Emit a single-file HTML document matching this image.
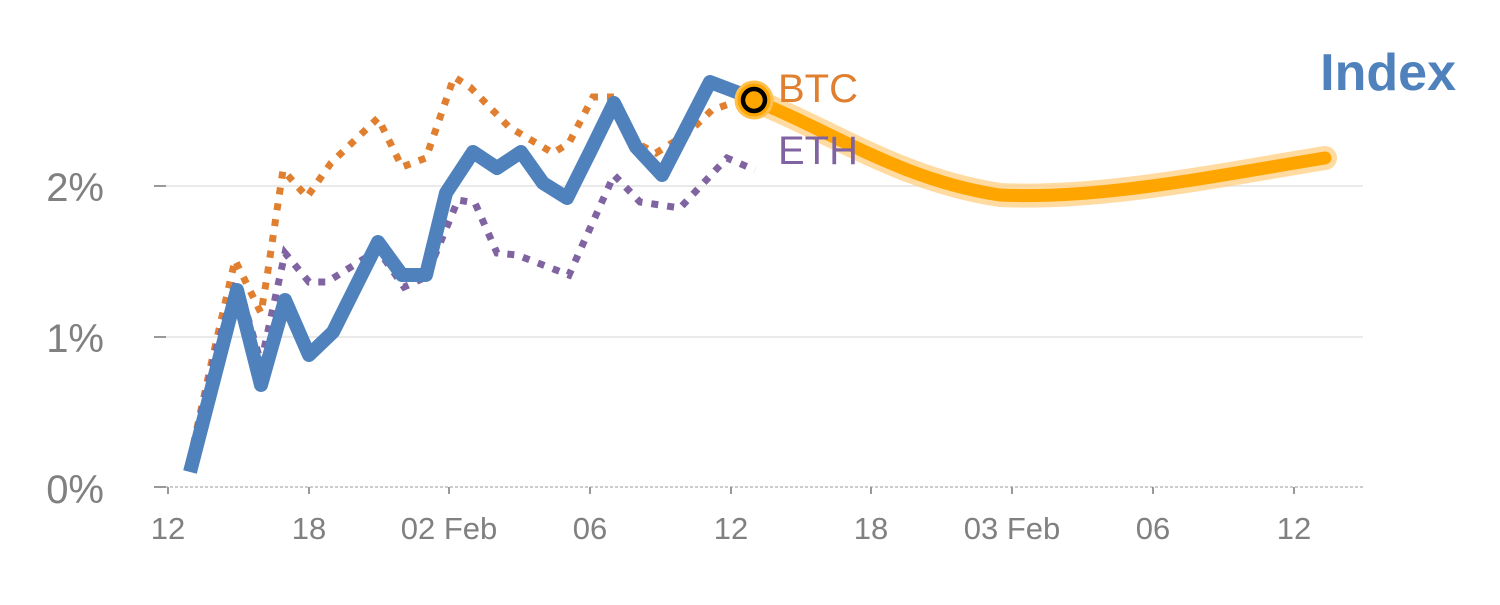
<!DOCTYPE html>
<html><head><style>body{margin:0;background:#fff}</style></head><body>
<svg width="1500" height="600" xmlns="http://www.w3.org/2000/svg" font-family="Liberation Sans, sans-serif">
<g stroke="#e3e3e3" stroke-width="1.5">
<line x1="155" y1="186" x2="1363" y2="186"/>
<line x1="155" y1="337" x2="1363" y2="337"/>
</g>
<line x1="155" y1="487" x2="1363" y2="487" stroke="#ccc" stroke-width="2" stroke-dasharray="3,2"/>
<g stroke="#999" stroke-width="2">
<line x1="154" y1="186" x2="166" y2="186"/><line x1="154" y1="337" x2="166" y2="337"/><line x1="154" y1="487" x2="166" y2="487"/>
<line x1="168" y1="487" x2="168" y2="494"/><line x1="309" y1="487" x2="309" y2="494"/><line x1="449" y1="487" x2="449" y2="494"/><line x1="590" y1="487" x2="590" y2="494"/><line x1="731" y1="487" x2="731" y2="494"/><line x1="871" y1="487" x2="871" y2="494"/><line x1="1012" y1="487" x2="1012" y2="494"/><line x1="1153" y1="487" x2="1153" y2="494"/><line x1="1294" y1="487" x2="1294" y2="494"/>
</g>
<g fill="#808080" font-size="40" text-anchor="end">
<text x="104" y="201">2%</text><text x="104" y="352">1%</text><text x="104" y="503">0%</text>
</g>
<g fill="#808080" font-size="31" text-anchor="middle">
<text x="168" y="539">12</text><text x="309" y="539">18</text><text x="449" y="539">02 Feb</text><text x="590" y="539">06</text><text x="731" y="539">12</text><text x="871" y="539">18</text><text x="1012" y="539">03 Feb</text><text x="1153" y="539">06</text><text x="1294" y="539">12</text>
</g>
<path d="M753,100 C830,130 900,180 1000,195 C1100,200 1220,175 1325,158" fill="none" stroke="#ffd28a" stroke-width="24" stroke-linecap="round" opacity="0.8"/>
<path d="M753,100 C830,130 900,180 1000,195 C1100,200 1220,175 1325,158" fill="none" stroke="#ffa500" stroke-width="13" stroke-linecap="round"/>
<polyline fill="none" stroke="#e07f2f" stroke-width="7" stroke-dasharray="7,9" points="190,460 212,360 235,260 261,313 267,277 283,170 307,197 331,163 378,118 402,167 426,158 454,77 470,87 509,127 553,153 569,143 593,97 614,97 636,143 656,153 688,133 712,110 735,102"/>
<polyline fill="none" stroke="#8064a2" stroke-width="7" stroke-dasharray="7,9" points="190,460 216,350 237,280 261,363 285,253 309,282 327,282 378,250 404,287 426,277 458,200 475,203 497,253 517,255 569,275 614,175 640,202 680,208 727,158 755,170"/>
<polyline fill="none" stroke="#4f81bd" stroke-width="14" stroke-linejoin="round" points="190,472 237,290 261,385 285,300 309,355 333,332 354,290 378,242 402,275 426,275 446,193 473,152 497,168 521,152 543,183 567,198 590,152 614,103 636,147 662,175 710,82 739,93 753,100"/>
<circle cx="754" cy="100" r="18" fill="#ffa500" stroke="#ffc04d" stroke-width="3"/>
<circle cx="754" cy="100" r="11" fill="#ffa500" stroke="#000" stroke-width="4.5"/>
<text x="778" y="102" font-size="40" fill="#e07f2f">BTC</text>
<text x="778" y="164" font-size="40" fill="#8064a2">ETH</text>
<text x="1456" y="90" font-size="52" font-weight="bold" fill="#4f81bd" text-anchor="end">Index</text>
</svg>
</body></html>
